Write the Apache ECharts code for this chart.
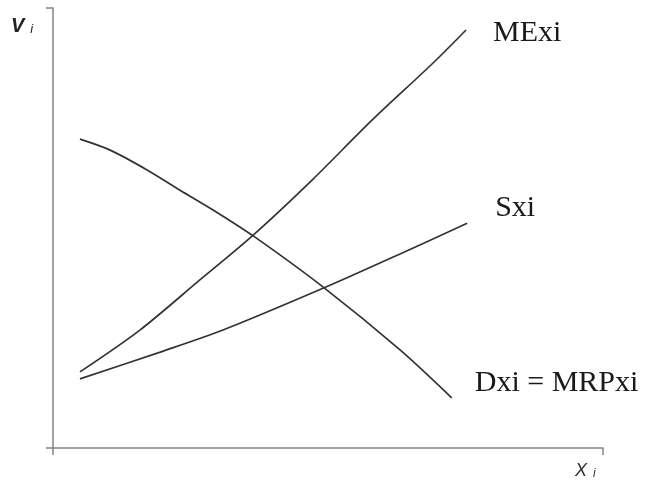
<!DOCTYPE html>
<html>
<head>
<meta charset="utf-8">
<script src="https://cdn.jsdelivr.net/npm/echarts@6/dist/echarts.min.js"></script>
<style>
  html, body { margin: 0; padding: 0; background: #fff; }
  #chart { width: 648px; height: 483px; }
</style>
</head>
<body>
<div id="chart"></div>
<script>
// values (x and y both on a 0..100 scale)
const meX = [4.9, 15.8, 26.7, 36.4, 47.1, 58.0, 69.1, 75.1];
const meY = [17.3, 26.8, 38.2, 48.4, 60.9, 74.5, 87.5, 95.0];

const sX = [4.9, 19.5, 30.9, 49.3, 63.1, 75.3];
const sY = [15.7, 21.8, 26.8, 36.4, 44.1, 51.1];

const dX = [4.9, 10.4, 17.1, 23.1, 29.1, 36.4, 49.3, 63.1, 72.5];
const dY = [70.2, 67.7, 63.2, 58.6, 54.1, 48.2, 36.4, 22.3, 11.4];

const seriesNames = ["MExi", "Sxi", "Dxi = MRPxi"];

const zip = (xs, ys) => xs.map((x, i) => [x, ys[i]]);

const lineColor = "#333";
const axisColor = "#858585";

const labelStyle = {
    show: true,
    color: "#1a1a1a",
    fontFamily: "'Liberation Serif', 'Times New Roman', serif",
    fontSize: 30,
};

function curve(name, data, offset) {
    return {
        name: name,
        type: "line",
        data: data,
        smooth: 0.3,
        showSymbol: false,
        lineStyle: { color: lineColor, width: 1.7 },
        endLabel: Object.assign({}, labelStyle, {
            formatter: name,
            offset: offset,
        }),
        emphasis: { disabled: true },
    };
}

const axisCommon = {
    type: "value",
    min: 0,
    max: 100,
    interval: 100,
    axisLine: { show: true, lineStyle: { color: axisColor, width: 1.5 } },
    axisTick: { show: true, length: 7, lineStyle: { color: axisColor, width: 1.5 } },
    axisLabel: { show: false },
    splitLine: { show: false },
};

const chart = echarts.init(document.getElementById("chart"));
chart.setOption({
    animation: false,
    backgroundColor: "#fff",
    grid: { left: 53, top: 8, width: 550, height: 440 },
    xAxis: axisCommon,
    yAxis: axisCommon,
    graphic: [
        {
            type: "text",
            left: 11,
            top: 16,
            style: {
                text: "{v|V}{i|i}",
                rich: {
                    v: { fontFamily: "Liberation Sans", fontStyle: "italic", fontWeight: "bold", fontSize: 20, fill: "#222" },
                    i: { fontFamily: "Liberation Sans", fontStyle: "italic", fontSize: 13, fill: "#222", padding: [6, 0, 0, 6] },
                },
            },
        },
        {
            type: "text",
            left: 575,
            top: 462,
            style: {
                text: "{x|X}{i|i}",
                rich: {
                    x: { fontFamily: "Liberation Sans", fontStyle: "italic", fontSize: 18, fill: "#333" },
                    i: { fontFamily: "Liberation Sans", fontStyle: "italic", fontSize: 12, fill: "#333", padding: [6, 0, 0, 6] },
                },
            },
        },
    ],
    series: [
        curve(seriesNames[0], zip(meX, meY), [19, 3]),
        curve(seriesNames[1], zip(sX, sY), [20, -15]),
        curve(seriesNames[2], zip(dX, dY), [15, -15]),
    ],
});
</script>
</body>
</html>
